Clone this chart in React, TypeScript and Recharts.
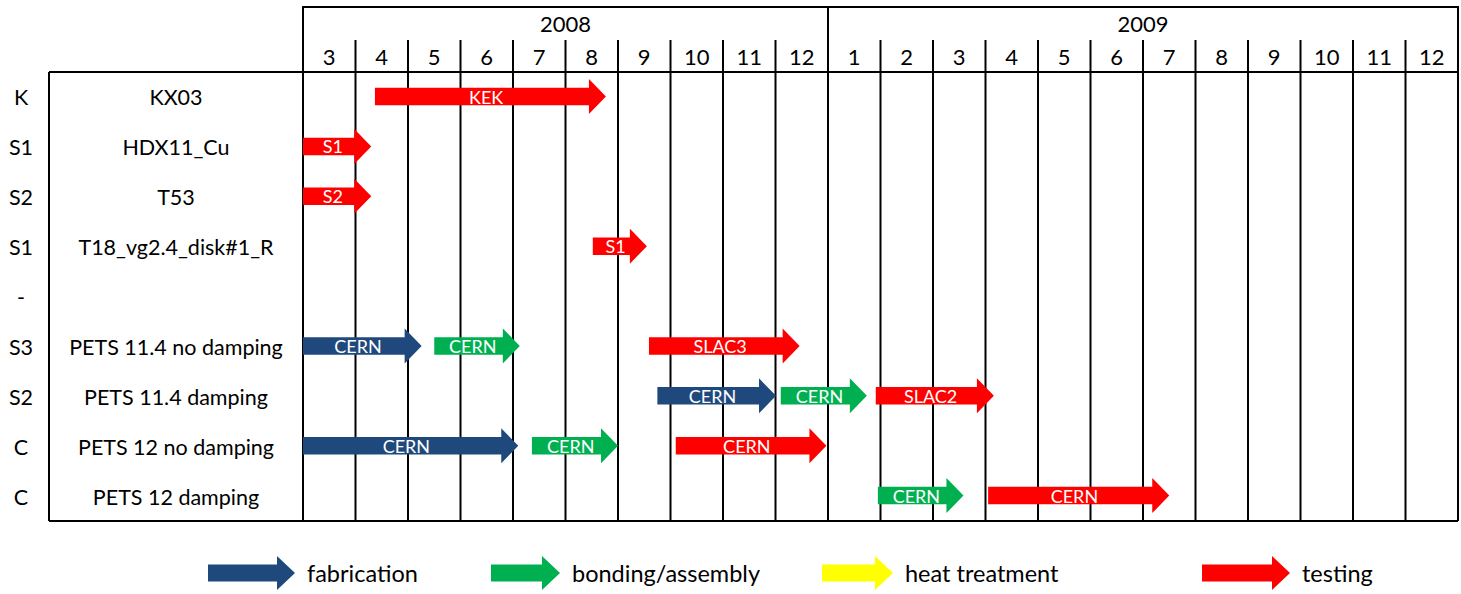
import { BarChart, Bar, XAxis, YAxis, CartesianGrid } from 'recharts';

// table rows
const rowCodes = ['K', 'S1', 'S2', 'S1', '-', 'S3', 'S2', 'C', 'C'];
const rowNames = [
  'KX03',
  'HDX11_Cu',
  'T53',
  'T18_vg2.4_disk#1_R',
  '',
  'PETS 11.4 no damping',
  'PETS 11.4 damping',
  'PETS 12 no damping',
  'PETS 12 damping',
];

// month columns, March 2008 .. December 2009
const months = ['3', '4', '5', '6', '7', '8', '9', '10', '11', '12', '1', '2', '3', '4', '5', '6', '7', '8', '9', '10', '11', '12'];
const years = ['2008', '2009'];
const yearSpans = [10, 12];

const phases = ['fabrication', 'bonding/assembly', 'heat treatment', 'testing'];

// tasks: row index, phase index, label, start/end in months from March 2008
const taskRow = [0, 1, 2, 3, 5, 5, 5, 6, 6, 6, 7, 7, 7, 8, 8];
const taskPhase = [3, 3, 3, 3, 0, 1, 3, 0, 1, 3, 0, 1, 3, 1, 3];
const taskLabel = ['KEK', 'S1', 'S2', 'S1', 'CERN', 'CERN', 'SLAC3', 'CERN', 'CERN', 'SLAC2', 'CERN', 'CERN', 'CERN', 'CERN', 'CERN'];
const taskStart = [1.37, 0, 0, 5.52, 0, 2.5, 6.59, 6.75, 9.1, 10.91, 0, 4.36, 7.1, 10.95, 13.05];
const taskEnd = [5.77, 1.3, 1.3, 6.55, 2.26, 4.13, 9.46, 9.01, 10.74, 13.16, 4.1, 6.0, 9.97, 12.58, 16.5];

const PHASE_COLORS = ['#1f497d', '#00b050', '#ffff00', '#ff0000'];
const FONT = 'Lato, "Open Sans", sans-serif';

const W = 1461;
const H = 594;
const MARGIN = { top: 7, right: 3, bottom: 72, left: 0 };
const CODE_W = 49;
const LABEL_W = 254;
const HEADER_H = 65;
const MONTH_H = 32;
const COL_W = (W - MARGIN.right - CODE_W - LABEL_W) / months.length;
const SLOTS = 3;

const yearBounds = yearSpans.reduce((acc, n) => [...acc, acc[acc.length - 1] + n], [0]);
const yearCenters = years.map((_, i) => (yearBounds[i] + yearBounds[i + 1]) / 2);
const gridTicks = months.map((_, i) => i).concat(months.length);
const headerTicks = Array.from(
  new Set([...gridTicks, ...months.map((_, i) => i + 0.5), ...yearCenters]),
).sort((a, b) => a - b);

const data = rowNames.map((name, r) => {
  const ids = taskRow.map((row, i) => (row === r ? i : -1)).filter((i) => i >= 0);
  const entry: any = { name, ids };
  ids.forEach((id, k) => {
    entry[`slot${k}`] = [taskStart[id], taskEnd[id]];
  });
  return entry;
});

function arrowPoints(x: number, y: number, w: number, h: number, head: number) {
  const cy = y + h / 2;
  const half = h / 4;
  const neck = x + w - head;
  return [
    [x, cy - half],
    [neck, cy - half],
    [neck, y],
    [x + w, cy],
    [neck, y + h],
    [neck, cy + half],
    [x, cy + half],
  ]
    .map((p) => p.join(','))
    .join(' ');
}

const arrowShape = (slot: number) => (props: any) => {
  const { x, y, width, height, payload } = props;
  const id = payload?.ids?.[slot];
  if (id === undefined || !width) return <g />;
  const head = 17;
  const cy = y + height / 2;
  return (
    <g>
      <polygon points={arrowPoints(x, y, width, height, head)} fill={PHASE_COLORS[taskPhase[id]]} />
      <text
        x={x + (width - head / 2) / 2}
        y={cy + 7}
        textAnchor="middle"
        fill="#fff"
        fontFamily={FONT}
        fontSize={18}
      >
        {taskLabel[id]}
      </text>
    </g>
  );
};

const RowTick = (props: any) => {
  const { x, y, index } = props;
  return (
    <g fontFamily={FONT} fontSize={21.5} fill="#000">
      <text x={x - 28} y={y + 8.5} textAnchor="middle">
        {rowCodes[index]}
      </text>
      <text x={x + LABEL_W / 2} y={y + 8.5} textAnchor="middle">
        {rowNames[index]}
      </text>
    </g>
  );
};

const HeaderTick = (props: any) => {
  const { x, y, payload } = props;
  const v = payload.value;
  const parts = [];
  if (Number.isInteger(v)) {
    const len = yearBounds.includes(v) ? HEADER_H : MONTH_H;
    parts.push(<line key="d" x1={x} x2={x} y1={y} y2={y - len} stroke="#000" strokeWidth={2} />);
  }
  if (v === 0) {
    parts.push(
      <line key="t" x1={x - 1} x2={x + months.length * COL_W + 1} y1={y - HEADER_H} y2={y - HEADER_H} stroke="#000" strokeWidth={2} />,
    );
  }
  const m = v - 0.5;
  if (Number.isInteger(m) && months[m]) {
    parts.push(
      <text key="m" x={x} y={y - 7} textAnchor="middle" fontFamily={FONT} fontSize={22} fill="#000">
        {months[m]}
      </text>,
    );
  }
  const yi = yearCenters.indexOf(v);
  if (yi >= 0) {
    parts.push(
      <text key="y" x={x} y={y - 40} textAnchor="middle" fontFamily={FONT} fontSize={22} fill="#000">
        {years[yi]}
      </text>,
    );
  }
  return <g>{parts}</g>;
};

const EmptyTick = () => <g />;

// legend placement as laid out on the slide
const LEGEND_X = [208, 491, 822, 1202];
const LEGEND_W = [87, 69, 71, 88];
const LEGEND_Y = 573;

function LegendRow() {
  return (
    <>
      {phases.map((p, i) => (
        <div
          key={p}
          style={{
            position: 'absolute',
            left: LEGEND_X[i],
            top: LEGEND_Y - 17,
            height: 34,
            display: 'flex',
            alignItems: 'center',
            whiteSpace: 'nowrap',
          }}
        >
          <svg width={LEGEND_W[i]} height={34} style={{ display: 'block' }}>
            <polygon points={arrowPoints(0, 0, LEGEND_W[i], 34, 18)} fill={PHASE_COLORS[i]} />
          </svg>
          <span style={{ marginLeft: 12, fontFamily: FONT, fontSize: 23.5, color: '#000', lineHeight: '34px' }}>{p}</span>
        </div>
      ))}
    </>
  );
}

export default function App() {
  return (
    <div style={{ position: 'absolute', left: 0, top: 0, width: W, height: H, background: '#fff' }}>
      <BarChart width={W} height={H} data={data} layout="vertical" margin={MARGIN}>
        <CartesianGrid horizontal={false} stroke="#000" strokeWidth={2} />
        <XAxis
          type="number"
          domain={[0, months.length]}
          allowDataOverflow
          ticks={gridTicks}
          interval={0}
          padding={{ left: LABEL_W, right: 0 }}
          tick={EmptyTick}
          tickLine={false}
          height={1}
          axisLine={{ stroke: '#000', strokeWidth: 2 }}
        />
        <XAxis
          xAxisId="top"
          orientation="top"
          type="number"
          domain={[0, months.length]}
          allowDataOverflow
          ticks={headerTicks}
          interval={0}
          padding={{ left: LABEL_W, right: 0 }}
          height={HEADER_H}
          tickSize={0}
          tickMargin={0}
          tickLine={false}
          tick={HeaderTick}
          axisLine={{ stroke: '#000', strokeWidth: 2 }}
        />
        <YAxis
          type="category"
          dataKey="name"
          width={CODE_W}
          interval={0}
          tickSize={0}
          tickMargin={0}
          tickLine={false}
          tick={RowTick}
          axisLine={{ stroke: '#000', strokeWidth: 2 }}
        />
        {Array.from({ length: SLOTS - 1 }, (_, k) => (
          <YAxis key={k} yAxisId={`s${k + 1}`} type="category" dataKey="name" hide />
        ))}
        {Array.from({ length: SLOTS }, (_, k) => (
          <Bar
            key={k}
            dataKey={`slot${k}`}
            yAxisId={k === 0 ? 0 : `s${k}`}
            barSize={35}
            shape={arrowShape(k)}
            isAnimationActive={false}
          />
        ))}
      </BarChart>
      <LegendRow />
    </div>
  );
}
